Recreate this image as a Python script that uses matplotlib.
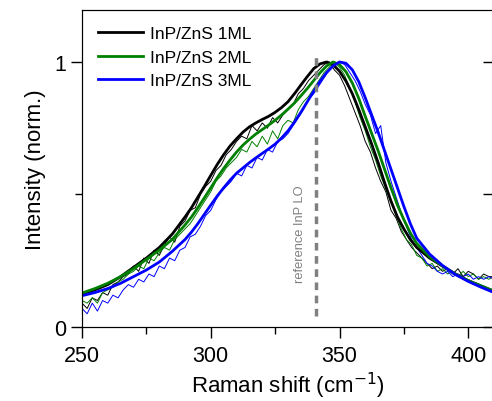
import numpy as np
import matplotlib.pyplot as plt

plt.rcParams['font.family'] = ['Liberation Sans', 'DejaVu Sans']

# Raman-Spektren (gemessen, dünne Linien) und Fits (dicke Linien)
shift_data = np.arange(250, 411, 2)

data_1ml = [0.09, 0.07, 0.11, 0.10, 0.13, 0.12, 0.16, 0.17, 0.19, 0.20,
            0.23, 0.21, 0.26, 0.24, 0.29, 0.27, 0.31, 0.34, 0.32, 0.38,
            0.40, 0.44, 0.45, 0.50, 0.53, 0.55, 0.59, 0.61, 0.65, 0.67,
            0.70, 0.72, 0.71, 0.76, 0.74, 0.77, 0.75, 0.79, 0.77, 0.80,
            0.82, 0.84, 0.88, 0.90, 0.93, 0.95, 0.97, 0.99, 1.00, 0.97,
            0.95, 0.91, 0.86, 0.81, 0.76, 0.70, 0.66, 0.60, 0.55, 0.51,
            0.44, 0.41, 0.36, 0.33, 0.30, 0.28, 0.26, 0.24, 0.22, 0.23,
            0.21, 0.22, 0.20, 0.22, 0.19, 0.21, 0.20, 0.18, 0.20, 0.19,
            0.19]
data_2ml = [0.10, 0.09, 0.11, 0.09, 0.13, 0.14, 0.15, 0.17, 0.18, 0.20,
            0.21, 0.23, 0.22, 0.26, 0.25, 0.28, 0.30, 0.29, 0.33, 0.35,
            0.37, 0.39, 0.42, 0.45, 0.48, 0.51, 0.55, 0.57, 0.60, 0.62,
            0.64, 0.67, 0.66, 0.70, 0.68, 0.72, 0.69, 0.74, 0.71, 0.76,
            0.78, 0.77, 0.82, 0.85, 0.87, 0.90, 0.93, 0.96, 0.98, 1.00,
            0.98, 0.95, 0.90, 0.85, 0.79, 0.74, 0.68, 0.63, 0.57, 0.52,
            0.47, 0.42, 0.37, 0.33, 0.31, 0.27, 0.26, 0.23, 0.24, 0.21,
            0.22, 0.20, 0.21, 0.19, 0.21, 0.19, 0.20, 0.18, 0.19, 0.18,
            0.19]
data_3ml = [0.07, 0.05, 0.09, 0.06, 0.10, 0.09, 0.12, 0.11, 0.14, 0.16,
            0.15, 0.18, 0.17, 0.20, 0.19, 0.23, 0.22, 0.26, 0.25, 0.29,
            0.30, 0.34, 0.35, 0.38, 0.42, 0.44, 0.48, 0.51, 0.53, 0.55,
            0.58, 0.57, 0.61, 0.60, 0.64, 0.63, 0.67, 0.66, 0.70, 0.71,
            0.73, 0.76, 0.79, 0.82, 0.86, 0.88, 0.91, 0.94, 0.97, 0.99,
            1.00, 0.99, 0.96, 0.93, 0.89, 0.84, 0.80, 0.73, 0.76, 0.62,
            0.55, 0.49, 0.43, 0.38, 0.33, 0.30, 0.27, 0.24, 0.23, 0.21,
            0.20, 0.21, 0.19, 0.20, 0.19, 0.20, 0.18, 0.19, 0.18, 0.19,
            0.18]

shift_fit = [250, 255, 260, 265, 270, 275, 280, 285, 290, 292.5, 295, 297.5,
             300, 302.5, 305, 307.5, 310, 312.5, 315, 317.5, 320, 322.5,
             325, 327.5, 330, 332.5, 335, 337.5, 340, 342.5, 345, 347.5,
             350, 352.5, 355, 357.5, 360, 362.5, 365, 367.5, 370, 372.5,
             375, 377.5, 380, 385, 390, 395, 400, 405, 410]
fit_1ml = [0.125, 0.14, 0.16, 0.19, 0.225, 0.26, 0.30, 0.35, 0.415, 0.45,
           0.49, 0.53, 0.572, 0.613, 0.65, 0.683, 0.71, 0.735, 0.755, 0.77,
           0.783, 0.795, 0.81, 0.828, 0.85, 0.88, 0.913, 0.945, 0.975,
           0.993, 1.0, 0.99, 0.965, 0.928, 0.88, 0.82, 0.755, 0.69, 0.62,
           0.545, 0.475, 0.415, 0.37, 0.33, 0.30, 0.26, 0.23, 0.20, 0.175,
           0.155, 0.135]
fit_2ml = [0.128, 0.145, 0.165, 0.19, 0.22, 0.255, 0.29, 0.33, 0.385, 0.415,
           0.45, 0.487, 0.525, 0.563, 0.598, 0.63, 0.66, 0.686, 0.708, 0.728,
           0.745, 0.762, 0.78, 0.80, 0.822, 0.845, 0.872, 0.90, 0.93, 0.96,
           0.985, 1.0, 0.99, 0.963, 0.92, 0.862, 0.795, 0.73, 0.665, 0.595,
           0.525, 0.46, 0.405, 0.355, 0.315, 0.265, 0.23, 0.20, 0.175,
           0.155, 0.135]
fit_3ml = [0.118, 0.13, 0.145, 0.165, 0.19, 0.215, 0.245, 0.285, 0.33, 0.358,
           0.39, 0.425, 0.46, 0.494, 0.525, 0.554, 0.58, 0.60, 0.62, 0.638,
           0.655, 0.672, 0.69, 0.713, 0.74, 0.773, 0.81, 0.85, 0.89, 0.928,
           0.96, 0.985, 1.0, 0.995, 0.97, 0.925, 0.865, 0.80, 0.735, 0.665,
           0.595, 0.525, 0.455, 0.39, 0.335, 0.275, 0.232, 0.198, 0.172,
           0.15, 0.13]

labels = ['InP/ZnS 1ML', 'InP/ZnS 2ML', 'InP/ZnS 3ML']
farben = ['black', '#008000', '#0000ff']

ref_lo = 341

fig = plt.figure(figsize=(4.92, 4.02), dpi=100)
ax = fig.add_axes([82 / 492, 74 / 402, 412 / 492, 317 / 402])

for daten, farbe in zip([data_1ml, data_2ml, data_3ml], farben):
    ax.plot(shift_data, daten, color=farbe, lw=0.7)
for fit, farbe, label in zip([fit_1ml, fit_2ml, fit_3ml], farben, labels):
    ax.plot(shift_fit, fit, color=farbe, lw=2.0, label=label)

ax.plot([ref_lo, ref_lo], [0.04, 1.02], color='#808080', lw=2.5,
        dashes=(2.2, 1.6))
ax.text(334.5, 0.17, 'reference InP LO', rotation=90, color='#808080',
        fontsize=9.3, ha='center', va='bottom')

ax.set_xlim(250, 410)
ax.set_ylim(0, 1.196)
ax.set_xticks([250, 300, 350, 400])
ax.set_xticks([275, 325, 375], minor=True)
ax.set_yticks([0, 1])
ax.set_yticks([0.5], minor=True)
ax.tick_params(which='major', direction='out', length=8, width=1,
               labelsize=15.5)
ax.tick_params(which='minor', direction='out', length=5, width=1)
ax.tick_params(axis='x', pad=5)

# rechte Achse mit Ticks nach innen
ax2 = ax.twinx()
ax2.set_ylim(ax.get_ylim())
ax2.set_yticks([0, 1])
ax2.set_yticks([0.5], minor=True)
ax2.tick_params(which='both', direction='in', length=8, width=1,
                labelright=False)

ax.set_xlabel('Raman shift (cm$^{-1}$)', fontsize=16, labelpad=3)
ax.set_ylabel('Intensity (norm.)', fontsize=16, labelpad=6)

ax.legend(loc='upper left', frameon=False, fontsize=12.5, handlelength=2.6,
          handletextpad=0.4, labelspacing=0.5, borderaxespad=0.5,
          bbox_to_anchor=(0.0, 1.0))

fig.savefig('out.png', dpi=100)
